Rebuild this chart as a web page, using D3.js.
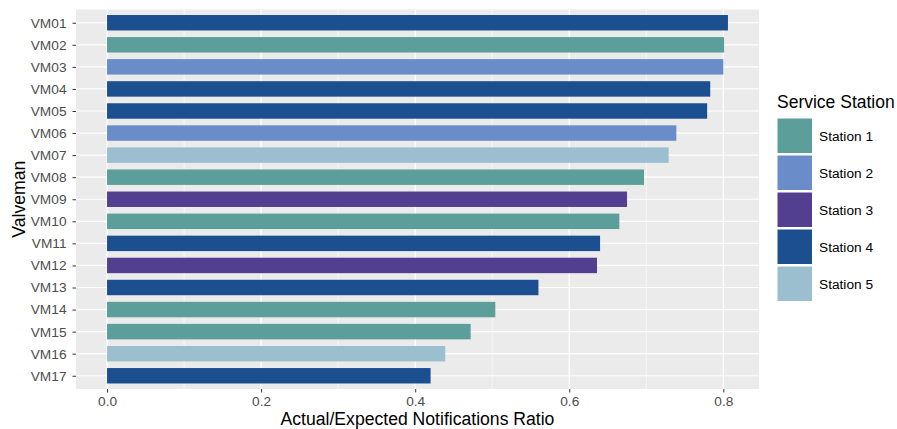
<!DOCTYPE html>
<html><head><meta charset="utf-8">
<script src="https://cdn.jsdelivr.net/npm/d3@7"></script>
<style>body{margin:0;background:#fff;} text{font-family:"Liberation Sans",Arial,sans-serif;}</style>
</head><body><svg id="c" width="897" height="429"></svg>
<script>
const valvemen = ["VM01","VM02","VM03","VM04","VM05","VM06","VM07","VM08","VM09","VM10","VM11","VM12","VM13","VM14","VM15","VM16","VM17"];
const ratios = [0.806,0.801,0.800,0.783,0.779,0.739,0.729,0.697,0.675,0.665,0.640,0.636,0.560,0.504,0.472,0.439,0.420];
const stations = ["Station 4","Station 1","Station 2","Station 4","Station 4","Station 2","Station 5","Station 1","Station 3","Station 1","Station 4","Station 3","Station 4","Station 1","Station 1","Station 5","Station 4"];
const stationNames = ["Station 1","Station 2","Station 3","Station 4","Station 5"];
const stationColors = ["#5c9e9a","#6a8cc9","#533f8f","#1c4f8f","#9bbfcf"];
const xTicks = [0,0.2,0.4,0.6,0.8];
const xMinor = [0.1,0.3,0.5,0.7];

const svg = d3.select("#c");
const P = {l:76, r:759, t:9.5, b:389};
const maxV = d3.max(ratios);
const x = d3.scaleLinear().domain([-maxV*0.05, maxV*1.05]).range([P.l,P.r]);
const n = valvemen.length;
const step = (P.b-P.t)/(n-1+1.2);
const yc = d3.scalePoint().domain(valvemen).range([P.t+0.6*step, P.b-0.6*step]);
const color = d3.scaleOrdinal().domain(stationNames).range(stationColors);

svg.append("rect").attr("x",P.l).attr("y",P.t).attr("width",P.r-P.l).attr("height",P.b-P.t).attr("fill","#ebebeb");
const g = svg.append("g");
xMinor.forEach(v=>g.append("line").attr("x1",x(v)).attr("x2",x(v)).attr("y1",P.t).attr("y2",P.b).attr("stroke","#fff").attr("stroke-width",0.6));
valvemen.forEach(v=>g.append("line").attr("x1",P.l).attr("x2",P.r).attr("y1",yc(v)).attr("y2",yc(v)).attr("stroke","#fff").attr("stroke-width",1.2));
xTicks.forEach(v=>g.append("line").attr("x1",x(v)).attr("x2",x(v)).attr("y1",P.t).attr("y2",P.b).attr("stroke","#fff").attr("stroke-width",1.2));

const bh = step*0.7;
svg.append("g").selectAll("rect").data(valvemen).join("rect")
  .attr("x",x(0)).attr("y",d=>yc(d)-bh/2)
  .attr("width",(d,i)=>x(ratios[i])-x(0)).attr("height",bh)
  .attr("fill",(d,i)=>color(stations[i]));

// axes
const ya = svg.append("g").attr("transform",`translate(${P.l},0)`).call(d3.axisLeft(yc).tickSize(3.5).tickPadding(6));
ya.select(".domain").remove();
ya.selectAll("line").attr("stroke","#333");
ya.selectAll("text").attr("font-size",13.7).attr("fill","#4d4d4d");
const xa = svg.append("g").attr("transform",`translate(0,${P.b})`).call(d3.axisBottom(x).tickValues(xTicks).tickFormat(d3.format(".1f")).tickSize(3.5).tickPadding(4));
xa.select(".domain").remove();
xa.selectAll("line").attr("stroke","#333");
xa.selectAll("text").attr("font-size",13.7).attr("fill","#4d4d4d");

svg.append("text").attr("x",(P.l+P.r)/2).attr("y",424.5).attr("text-anchor","middle").attr("font-size",17.6).attr("fill","#000").text("Actual/Expected Notifications Ratio");
svg.append("text").attr("transform",`translate(25,${(P.t+P.b)/2}) rotate(-90)`).attr("text-anchor","middle").attr("font-size",17.6).attr("fill","#000").text("Valveman");

// legend
const lg = svg.append("g").attr("transform","translate(777,0)");
lg.append("text").attr("x",0).attr("y",108).attr("font-size",17.5).attr("fill","#000").text("Service Station");
stationNames.forEach((s,i)=>{
  const yy = 118 + i*37;
  lg.append("rect").attr("x",0).attr("y",yy).attr("width",35.5).attr("height",35.5).attr("fill",color(s)).attr("stroke","#fff").attr("stroke-width",1);
  lg.append("text").attr("x",42).attr("y",yy+22.5).attr("font-size",13.7).attr("fill","#000").text(s);
});
</script></body></html>
